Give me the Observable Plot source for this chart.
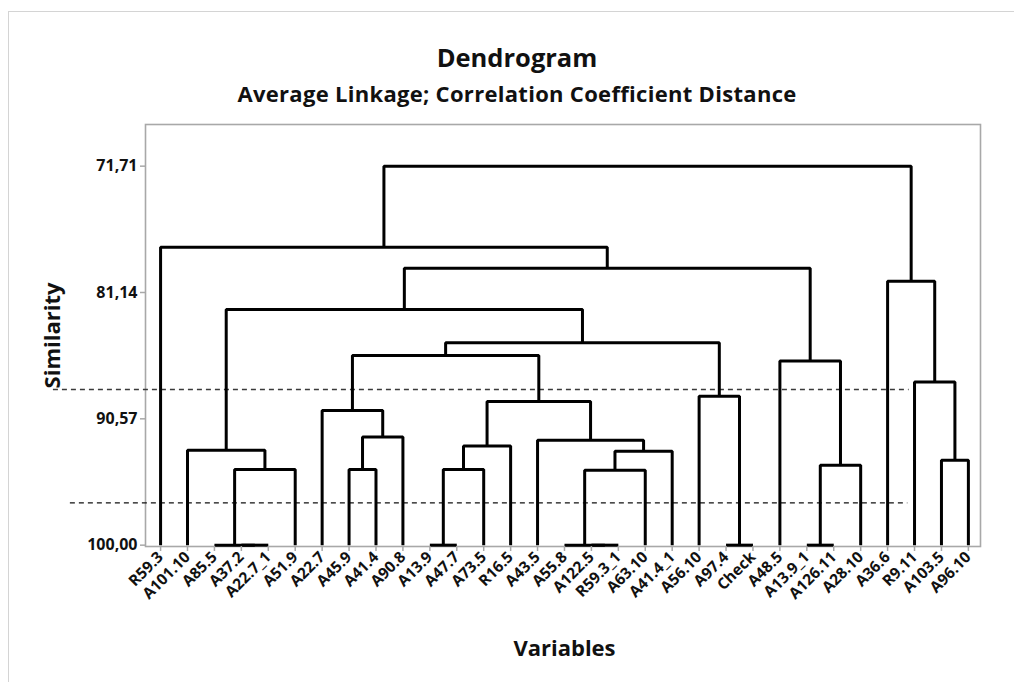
<!DOCTYPE html>
<html>
<head>
<meta charset="utf-8">
<script src="https://cdn.jsdelivr.net/npm/d3@7"></script>
<script src="https://cdn.jsdelivr.net/npm/@observablehq/plot@0.6"></script>
<style>
  html, body { margin: 0; padding: 0; background: #fff; }
  #wrap { position: relative; width: 1014px; height: 682px; overflow: hidden; font-family: "Open Sans", "Noto Sans", sans-serif; }
  #outer { position: absolute; left: 8px; top: 11px; width: 1020px; height: 700px; border-left: 1.5px solid #d4d4d4; border-top: 1.5px solid #d4d4d4; }
  #title { position: absolute; left: 0; width: 1034px; top: 39px; text-align: center; font-size: 25.5px; line-height: 36px; font-weight: bold; color: #111; }
  #subtitle { position: absolute; left: 0; width: 1034px; top: 78px; text-align: center; font-size: 22px; line-height: 30px; font-weight: bold; color: #111; letter-spacing: 0.3px; }
  #chart { position: absolute; left: 0; top: 0; }
</style>
</head>
<body>
<div id="wrap">
  <div id="outer"></div>
  <div id="title">Dendrogram</div>
  <div id="subtitle">Average Linkage; Correlation Coefficient Distance</div>
  <div id="chart"></div>
</div>
<script>
// Leaves in dendrogram order
const leaves = ["R59.3","A101.10","A85.5","A37.2","A22.7_1","A51.9","A22.7","A45.9","A41.4","A90.8",
  "A13.9","A47.7","A73.5","R16.5","A43.5","A55.8","A122.5","R59.3_1","A63.10","A41.4_1",
  "A56.10","A97.4","Check","A48.5","A13.9_1","A126.11","A28.10","A36.6","R9.11","A103.5","A96.10"];

// Amalgamation steps: "#k" refers to the cluster formed at step k (1-based)
const mergeLeft  = ["A37.2","A85.5","A13.9","A122.5","A55.8","A97.4","A13.9_1","#2","A45.9","#3",
  "#5","#7","A103.5","#11","A101.10","#10","A43.5","#9","A22.7","#16",
  "A56.10","R9.11","A48.5","#19","#24","#15","A36.6","#26","R59.3","#29"];
const mergeRight = ["A22.7_1","#1","A47.7","R59.3_1","#4","Check","A126.11","A51.9","A41.4","A73.5",
  "A63.10","A28.10","A96.10","A41.4_1","#8","R16.5","#14","A90.8","#18","#17",
  "#6","#13","#12","#20","#21","#25","#22","#23","#28","#27"];
const mergeSim   = [100,100,100,100,100,100,100,94.36,94.36,94.36,
  94.40,94.04,93.66,92.99,92.92,92.60,92.17,91.93,89.94,89.27,
  88.89,87.83,86.26,85.84,84.89,82.41,80.30,79.33,77.76,71.71];

// Y tick values (similarity)
const yTicks = [71.71, 81.14, 90.57, 100.00];

// Dashed reference lines: similarity level, x-extent in leaf-index units
const cutSim  = [88.38, 96.84];
const cutFrom = [-3.98, -3.35];
const cutTo   = [27.8, 27.75];
const cutColor = ["#3a3a3a", "#111"];

// Build node positions
const nodes = [];
function pos(ref) {
  if (ref.startsWith("#")) return nodes[+ref.slice(1) - 1];
  return {x: leaves.indexOf(ref), y: 100};
}
const paths = [];
mergeSim.forEach((s, i) => {
  const a = pos(mergeLeft[i]), b = pos(mergeRight[i]);
  nodes.push({x: (a.x + b.x) / 2, y: s});
  paths.push({id: i, x: a.x, y: a.y});
  paths.push({id: i, x: a.x, y: s});
  paths.push({id: i, x: b.x, y: s});
  paths.push({id: i, x: b.x, y: b.y});
});
const cuts = cutSim.map((s, i) => ({s, x1: cutFrom[i], x2: cutTo[i], c: cutColor[i]}));

const fmt = d => d.toFixed(2).replace(".", ",");

const plot = Plot.plot({
  width: 1014,
  height: 682,
  marginLeft: 145,
  marginRight: 34,
  marginTop: 124,
  marginBottom: 136,
  style: {fontFamily: "'Open Sans', 'Noto Sans', sans-serif", background: "transparent", overflow: "visible"},
  x: {domain: [-0.56, 30.45], axis: null},
  y: {domain: [100.1, 68.6], axis: null},
  marks: [
    Plot.frame({stroke: "#a8a8a8", strokeWidth: 1.6}),
    Plot.ruleY(cuts, {y: "s", x1: "x1", x2: "x2", stroke: "c", strokeDasharray: "5,4", strokeWidth: 1.3}),
    Plot.line(paths, {x: "x", y: "y", z: "id", stroke: "#000", strokeWidth: 3, strokeLinejoin: "miter", strokeLinecap: "butt"}),
    Plot.axisX(d3.range(leaves.length), {
      tickFormat: i => leaves[i], tickRotate: -45, tickSize: 5, tickPadding: 3,
      stroke: "#a8a8a8", strokeWidth: 1.5, fontSize: 15.5, fontWeight: "bold", fill: "#111", label: null
    }),
    Plot.axisY(yTicks, {
      tickFormat: fmt, tickSize: 5, tickPadding: 3, stroke: "#a8a8a8", strokeWidth: 1.5,
      fontSize: 16, fontWeight: "bold", fill: "#111", label: null
    }),
    Plot.text(["Similarity"], {frameAnchor: "left", textAnchor: "middle", dx: -93, y: [84.35], rotate: -90, fontSize: 22, fontWeight: "bold", fill: "#111"}),
    Plot.text(["Variables"], {x: [15.0], frameAnchor: "bottom", dy: 109, fontSize: 22, fontWeight: "bold", fill: "#111"})
  ]
});
document.getElementById("chart").appendChild(plot);
</script>
</body>
</html>
